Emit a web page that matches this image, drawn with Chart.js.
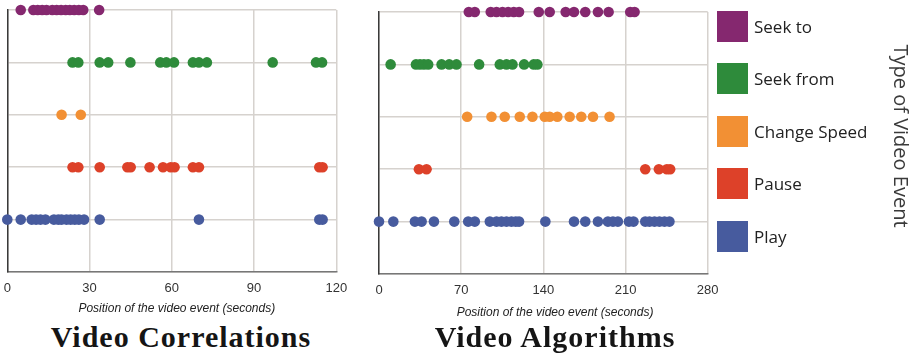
<!DOCTYPE html>
<html>
<head>
<meta charset="utf-8">
<script src="https://cdn.jsdelivr.net/npm/chart.js@4/dist/chart.umd.min.js"></script>
<style>
html,body{margin:0;padding:0;background:#fff;width:918px;height:355px;overflow:hidden;position:relative}
canvas{position:absolute}
#c1{left:0;top:0}
#c2{left:372px;top:2px}
.title{position:absolute;top:322px;font-family:"Liberation Serif",serif;font-weight:bold;font-size:30px;letter-spacing:1px;line-height:30px;color:#151515;white-space:nowrap;transform:translateX(-50%)}
#legend{position:absolute;left:717px;top:11px}
.item{position:absolute;left:0;height:31px;display:flex;align-items:center;white-space:nowrap}
.sw{width:31px;height:31px;margin-right:6px}
.lt{font-family:"Open Sans",sans-serif;font-size:17px;color:#222}
#ylab{position:absolute;left:901px;top:136px;transform:translate(-50%,-50%) rotate(90deg);font-family:"Open Sans",sans-serif;font-weight:400;font-size:20px;color:#3a3a3a;white-space:nowrap}
</style>
</head>
<body>
<canvas id="c1" width="350" height="320"></canvas>
<canvas id="c2" width="350" height="320"></canvas>
<div class="title" style="left:181px">Video Correlations</div>
<div class="title" style="left:555px">Video Algorithms</div>
<div id="legend"></div>
<div id="ylab">Type of Video Event</div>
<script>
// Event types, top row to bottom row
const categories = ['Seek to', 'Seek from', 'Change Speed', 'Pause', 'Play'];
const colors = ['#85286F', '#2E8B3B', '#F29034', '#DD4129', '#475B9E'];
const xAxisTitle = 'Position of the video event (seconds)';

// Video Correlations (seconds)
const corrSeekTo = [4.9, 9.5, 11.1, 12.7, 14.3, 16.4, 18.0, 19.6, 21.3, 22.8, 24.4, 26.1, 27.7, 33.5];
const corrSeekFrom = [23.8, 25.9, 33.7, 36.8, 44.9, 55.8, 58.0, 60.8, 67.7, 69.9, 72.8, 96.8, 112.6, 114.8];
const corrChangeSpeed = [19.8, 26.8];
const corrPause = [23.8, 25.9, 33.7, 43.8, 45.0, 51.9, 56.8, 59.6, 61.0, 67.7, 69.9, 113.8, 115.0];
const corrPlay = [0, 4.9, 8.9, 10.5, 12.1, 13.9, 17.0, 18.6, 19.8, 21.6, 23.1, 24.6, 26.1, 28.0, 33.7, 69.9, 113.8, 115.0];
const corrTicks = [0, 30, 60, 90, 120];

// Video Algorithms (seconds)
const algSeekTo = [76.5, 81.6, 95.2, 100.1, 105.2, 110.0, 114.8, 119.3, 136.1, 145.4, 159.0, 166.1, 175.7, 186.5, 195.6, 214.0, 217.7];
const algSeekFrom = [9.9, 31.5, 34.9, 38.3, 41.9, 53.3, 59.8, 66.0, 85.3, 102.9, 108.6, 113.7, 123.6, 131.8, 134.9];
const algChangeSpeed = [75.1, 95.8, 107.1, 119.9, 130.7, 141.2, 145.4, 151.9, 162.4, 172.3, 182.3, 196.4];
const algPause = [34.0, 40.5, 226.8, 238.4, 245.2, 248.0];
const algPlay = [0, 12.2, 30.6, 36.3, 46.8, 64.1, 76.0, 81.6, 94.4, 100.1, 104.3, 108.6, 112.8, 116.5, 119.3, 141.7, 166.1, 175.7, 186.5, 195.0, 199.3, 203.5, 212.9, 216.8, 226.8, 230.4, 234.7, 238.9, 243.2, 247.4];
const algTicks = [0, 70, 140, 210, 280];

function makeChart(id, series, ticks, pad, titlePadBottom, titleShift) {
  const n = categories.length;
  const datasets = categories.map((name, i) => ({
    label: name,
    data: series[i].map(x => ({ x: x, y: n - i })),
    backgroundColor: colors[i],
    borderWidth: 0,
    pointRadius: 5.3,
    pointHoverRadius: 5.3,
    clip: false
  }));
  const gridColor = '#d6d2ce';
  return new Chart(document.getElementById(id), {
    type: 'scatter',
    data: { datasets },
    options: {
      responsive: false,
      animation: false,
      events: [],
      layout: { padding: pad },
      plugins: { legend: { display: false }, tooltip: { enabled: false } },
      scales: {
        x: {
          type: 'linear',
          min: ticks[0],
          max: ticks[ticks.length - 1],
          afterBuildTicks: s => { s.ticks = ticks.map(v => ({ value: v })); },
          afterFit: s => { s.height = 48; s.paddingLeft = 0; s.paddingRight = 0; },
          ticks: { color: '#333', font: { family: 'Liberation Sans', size: 13 }, padding: 9, maxRotation: 0 },
          grid: { color: gridColor, lineWidth: 1.5, drawTicks: false },
          border: { display: true, color: '#777', width: 1.5 },
          title: {
            display: true, text: '\u00a0'.repeat(titleShift) + xAxisTitle, color: '#222',
            font: { family: 'Liberation Sans', size: 12, style: 'italic' },
            padding: { top: 0, bottom: titlePadBottom }
          }
        },
        y: {
          type: 'linear',
          min: 0,
          max: n,
          afterFit: s => { s.paddingTop = 0; s.paddingBottom = 0; },
          ticks: { display: false, stepSize: 1 },
          grid: { color: gridColor, lineWidth: 1.5, drawTicks: false },
          border: { display: true, color: '#3a3a3a', width: 1.5 }
        }
      }
    }
  });
}

makeChart('c1', [corrSeekTo, corrSeekFrom, corrChangeSpeed, corrPause, corrPlay], corrTicks,
  { left: 7.3, right: 13.7, top: 10, bottom: 0 }, 4.0, 3);
makeChart('c2', [algSeekTo, algSeekFrom, algChangeSpeed, algPause, algPlay], algTicks,
  { left: 7, right: 14.3, top: 10, bottom: 0 }, 2.5, 7);

// Legend built from the same categories/colours
const legend = document.getElementById('legend');
categories.forEach((name, i) => {
  const it = document.createElement('div');
  it.className = 'item';
  it.style.top = (i * 52.4) + 'px';
  it.innerHTML = '<div class="sw" style="background:' + colors[i] + '"></div><span class="lt">' + name + '</span>';
  legend.appendChild(it);
});
</script>
</body>
</html>
